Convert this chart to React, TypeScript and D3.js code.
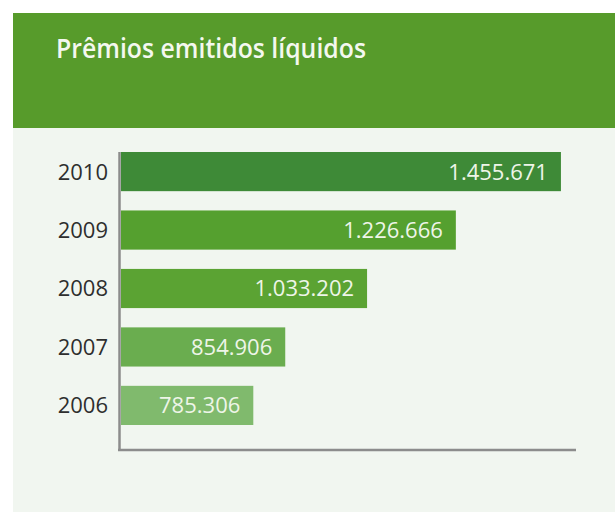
import React from "react";
import * as d3 from "d3";

const title = "Prêmios emitidos líquidos";
const years = ["2010", "2009", "2008", "2007", "2006"];
const values = [1455671, 1226666, 1033202, 854906, 785306];
const labels = ["1.455.671", "1.226.666", "1.033.202", "854.906", "785.306"];
const barColors = ["#3e8a37", "#55a02f", "#5ba333", "#6aad4f", "#80ba6d"];
const xDomain = [497000, 1488500];

const W = 615;
const H = 512;

export default function App() {
  const x = d3.scaleLinear().domain(xDomain).range([121, 576]);
  const y = d3
    .scaleBand<string>()
    .domain(years)
    .range([152, 425])
    .paddingInner(0.33)
    .paddingOuter(0);
  const font = "'Open Sans', 'Noto Sans', sans-serif";

  return (
    <svg
      width={W}
      height={H}
      viewBox={`0 0 ${W} ${H}`}
      style={{ position: "absolute", left: 0, top: 0, display: "block" }}
    >
      <rect x={0} y={0} width={W} height={H} fill="#ffffff" />
      <rect x={13} y={128} width={W - 13} height={H - 128} fill="#f1f6f0" />
      <rect x={13} y={13} width={W - 13} height={115} fill="#579b2b" />
      <text
        x={56}
        y={58}
        fill="#f4f8ef"
        fontFamily={font}
        fontSize={27}
        fontWeight={600}
        textLength={310}
        lengthAdjust="spacingAndGlyphs"
      >
        {title}
      </text>

      {years.map((yr, i) => {
        const y0 = y(yr)!;
        const bw = y.bandwidth();
        const x1 = x(values[i]);
        return (
          <g key={yr}>
            <rect x={121} y={y0} width={x1 - 121} height={bw} fill={barColors[i]} />
            <text
              x={x1 - 13}
              y={y0 + bw / 2}
              dy="0.36em"
              textAnchor="end"
              fill="#eef5e8"
              fontFamily={font}
              fontSize={22}
            >
              {labels[i]}
            </text>
            <text
              x={108}
              y={y0 + bw / 2}
              dy="0.36em"
              textAnchor="end"
              fill="#2e2e2e"
              fontFamily={font}
              fontSize={22}
              fontWeight={500}
            >
              {yr}
            </text>
          </g>
        );
      })}

      <line x1={119.5} x2={119.5} y1={152} y2={451} stroke="#8c8c8c" strokeWidth={2.5} />
      <line x1={118} x2={576} y1={450} y2={450} stroke="#8c8c8c" strokeWidth={2.5} />
    </svg>
  );
}
